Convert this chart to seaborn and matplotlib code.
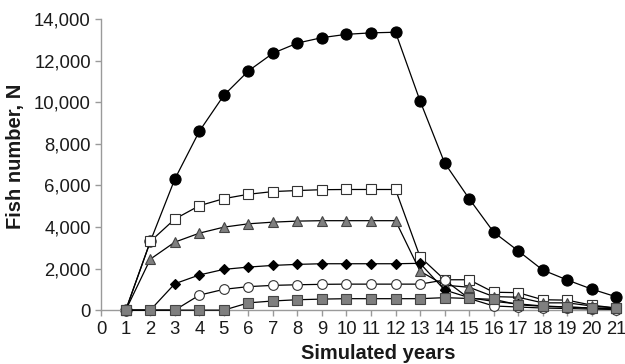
import matplotlib
matplotlib.use("Agg")
import matplotlib.pyplot as plt
import seaborn as sns
import pandas as pd

years = list(range(1, 22))
black_circles = [0, 3300, 6300, 8600, 10330, 11500, 12350, 12840, 13100, 13260, 13330,
                 13360, 10060, 7080, 5360, 3750, 2850, 1930, 1450, 1010, 640]
open_squares = [0, 3300, 4380, 5020, 5360, 5570, 5700, 5750, 5790, 5800, 5800,
                5800, 2560, 1460, 1460, 860, 840, 500, 480, 240, 100]
grey_triangles = [0, 2450, 3270, 3700, 3990, 4150, 4230, 4280, 4300, 4300, 4300,
                  4300, 1870, 1200, 1100, 650, 620, 350, 350, 200, 100]
black_diamonds = [0, 0, 1270, 1690, 1960, 2070, 2150, 2200, 2230, 2230, 2230,
                  2230, 2250, 970, 600, 420, 300, 200, 150, 100, 60]
open_circles = [0, 0, 0, 720, 1000, 1130, 1190, 1220, 1240, 1250, 1250,
                1250, 1250, 1450, 560, 200, 150, 100, 80, 50, 30]
grey_squares = [0, 0, 0, 0, 0, 350, 440, 500, 530, 550, 550,
                550, 550, 600, 560, 520, 260, 180, 150, 100, 80]

sns.set_style("white")
plt.rcParams['font.family'] = ['Liberation Sans', 'DejaVu Sans']

fig = plt.figure(figsize=(6.25, 3.64), dpi=100)
ax = fig.add_axes([0.162, 0.148, 0.824, 0.800])

grey = "#7f7f7f"
series = [
    (black_circles, 2, dict(marker="o", markersize=8, markerfacecolor="black", markeredgecolor="black")),
    (open_squares, 3, dict(marker="s", markersize=7, markerfacecolor="white", markeredgecolor="#333333")),
    (grey_triangles, 3, dict(marker="^", markersize=7.5, markerfacecolor=grey, markeredgecolor="#444444")),
    (black_diamonds, 3, dict(marker="D", markersize=5.5, markerfacecolor="black", markeredgecolor="black")),
    (open_circles, 3, dict(marker="o", markersize=7, markerfacecolor="white", markeredgecolor="#333333")),
    (grey_squares, 3, dict(marker="s", markersize=6.5, markerfacecolor=grey, markeredgecolor="#444444")),
]
for vals, z, style in series:
    df = pd.DataFrame({"year": years, "n": vals})
    sns.lineplot(data=df, x="year", y="n", ax=ax, color="black", linewidth=0.9,
                 markeredgewidth=0.8, clip_on=False, zorder=z, **style)

ax.set_xlim(0, 21)
ax.set_ylim(0, 14000)
ax.set_xticks(range(0, 22))
ax.set_yticks(range(0, 14001, 2000))
ax.set_yticklabels([f"{v:,}" for v in range(0, 14001, 2000)])

for s in ["top", "right"]:
    ax.spines[s].set_visible(False)
for s in ["left", "bottom"]:
    ax.spines[s].set_color("#9a9a9a")
    ax.spines[s].set_linewidth(1.0)

ax.tick_params(axis="both", direction="out", length=4.5, width=1.0, color="#9a9a9a",
               labelsize=13.3, labelcolor="#1a1a1a")
ax.tick_params(axis="x", pad=3)
ax.tick_params(axis="y", pad=3)
ax.tick_params(left=True, bottom=True)

ax.set_xlabel("Simulated years", fontsize=14.5, fontweight="bold", color="#1a1a1a")
ax.set_ylabel("Fish number, N", fontsize=14.5, fontweight="bold", color="#1a1a1a")
ax.xaxis.set_label_coords(0.538, -0.118)
ax.yaxis.set_label_coords(-0.148, 0.527)

fig.savefig("out.png", dpi=100)
